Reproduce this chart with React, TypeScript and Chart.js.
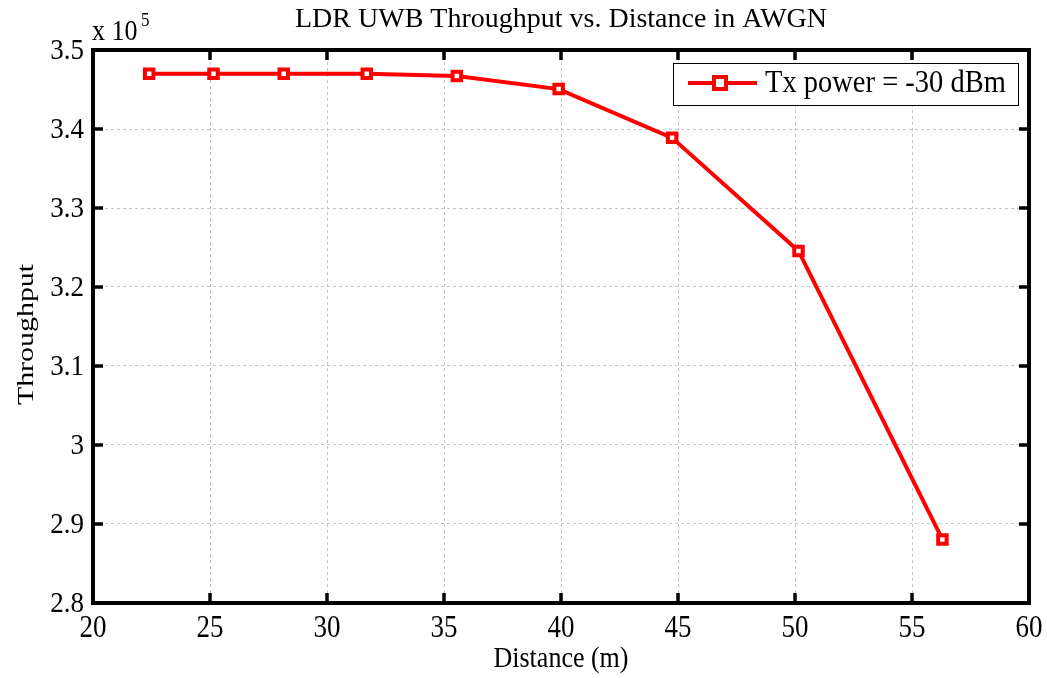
import React, { useEffect, useRef } from "react";
import { Chart, registerables } from "chart.js";

Chart.register(...registerables);

const distance = [22.4, 25.15, 28.15, 31.7, 35.55, 39.9, 44.75, 50.15, 56.3];
const throughput = [3.47, 3.47, 3.47, 3.47, 3.467, 3.4505, 3.3888, 3.2456, 2.8805];
const xTicks = [20, 25, 30, 35, 40, 45, 50, 55, 60];
const yTicks = [2.8, 2.9, 3.0, 3.1, 3.2, 3.3, 3.4, 3.5];
const yTickLabels = ["2.8", "2.9", "3", "3.1", "3.2", "3.3", "3.4", "3.5"];
const seriesLabel = "Tx power = -30 dBm";
const titleText = "LDR UWB Throughput vs. Distance in AWGN";
const xLabel = "Distance (m)";
const yLabel = "Throughput";

const FONT = '"Liberation Serif", "Times New Roman", serif';

function drawText(
  ctx: CanvasRenderingContext2D,
  text: string,
  x: number,
  y: number,
  size: number,
  sy: number,
  align: CanvasTextAlign,
  baseline: CanvasTextBaseline
) {
  ctx.save();
  ctx.translate(x, y);
  ctx.scale(1, sy);
  ctx.font = `${size}px ${FONT}`;
  ctx.textAlign = align;
  ctx.textBaseline = baseline;
  ctx.fillText(text, 0, 0);
  ctx.restore();
}

const framePlugin = {
  id: "framePlugin",
  afterDraw(chart: any) {
    const ctx = chart.ctx as CanvasRenderingContext2D;
    const { left, right, top, bottom } = chart.chartArea;
    const xs = chart.scales.x;
    const ys = chart.scales.y;
    ctx.save();
    ctx.strokeStyle = "#000";
    ctx.lineWidth = 4;
    ctx.strokeRect(left, top, right - left, bottom - top);
    ctx.lineWidth = 3.5;
    const tl = 10;
    xTicks.forEach((v) => {
      const px = xs.getPixelForValue(v);
      ctx.beginPath();
      ctx.moveTo(px, bottom);
      ctx.lineTo(px, bottom - tl);
      ctx.moveTo(px, top);
      ctx.lineTo(px, top + tl);
      ctx.stroke();
    });
    yTicks.forEach((v) => {
      const py = ys.getPixelForValue(v);
      ctx.beginPath();
      ctx.moveTo(left, py);
      ctx.lineTo(left + tl, py);
      ctx.moveTo(right, py);
      ctx.lineTo(right - tl, py);
      ctx.stroke();
    });
    ctx.fillStyle = "#000";
    // tick labels
    xTicks.forEach((v) => {
      const px = xs.getPixelForValue(v);
      drawText(ctx, String(v), px, 637, 27, 1.15, "center", "alphabetic");
    });
    yTicks.forEach((v, i) => {
      const py = ys.getPixelForValue(v);
      drawText(ctx, yTickLabels[i], 84, py + 1, 27, 1.12, "right", "middle");
    });
    // title
    drawText(ctx, titleText, (left + right) / 2, 27, 28, 1.0, "center", "alphabetic");
    // x label
    drawText(ctx, xLabel, (left + right) / 2, 667, 26, 1.1, "center", "alphabetic");
    // y label (rotated, stretched along its length)
    ctx.save();
    ctx.translate(33, (top + bottom) / 2 + 8);
    ctx.rotate(-Math.PI / 2);
    ctx.scale(1.3, 1);
    ctx.font = `23px ${FONT}`;
    ctx.textAlign = "center";
    ctx.textBaseline = "alphabetic";
    ctx.fillText(yLabel, 0, 0);
    ctx.restore();
    // exponent
    drawText(ctx, "x 10", 92, 40, 26, 1.1, "left", "alphabetic");
    drawText(ctx, "5", 141, 26, 17, 1.1, "left", "alphabetic");
    // legend
    const lx = 673, ly = 63, lw = 345, lh = 42;
    ctx.fillStyle = "#fff";
    ctx.fillRect(lx, ly, lw, lh);
    ctx.strokeStyle = "#000";
    ctx.lineWidth = 1;
    ctx.strokeRect(lx + 0.5, ly + 0.5, lw, lh);
    const cy = 83;
    ctx.strokeStyle = "#ff0000";
    ctx.lineWidth = 4;
    ctx.beginPath();
    ctx.moveTo(688, cy);
    ctx.lineTo(757, cy);
    ctx.stroke();
    ctx.lineWidth = 4;
    ctx.fillStyle = "#fff";
    ctx.fillRect(714, cy - 6, 12, 12);
    ctx.strokeRect(714, cy - 6, 12, 12);
    ctx.fillStyle = "#000";
    drawText(ctx, seriesLabel, 765, cy + 1, 28.5, 1.1, "left", "middle");
    ctx.restore();
  },
};

export default function App() {
  const ref = useRef<HTMLCanvasElement>(null);
  useEffect(() => {
    if (!ref.current) return;
    const chart = new Chart(ref.current, {
      type: "line",
      data: {
        datasets: [
          {
            label: seriesLabel,
            data: distance.map((d, i) => ({ x: d, y: throughput[i] })),
            borderColor: "#ff0000",
            backgroundColor: "#ffffff",
            borderWidth: 4,
            pointStyle: "rect",
            pointRadius: 6,
            pointBorderWidth: 4,
            pointBackgroundColor: "#ffffff",
            pointBorderColor: "#ff0000",
            tension: 0,
          },
        ],
      },
      options: {
        responsive: false,
        animation: false,
        layout: { padding: { left: 0, top: 50, right: 18, bottom: 0 } },
        plugins: {
          legend: { display: false },
          title: { display: false },
          tooltip: { enabled: false },
        },
        scales: {
          x: {
            type: "linear",
            min: 20,
            max: 60,
            afterFit: (s: any) => {
              s.height = 75;
            },
            afterBuildTicks: (s: any) => {
              s.ticks = xTicks.map((v) => ({ value: v }));
            },
            grid: { color: "#c4c4c4", lineWidth: 1, drawTicks: false },
            border: { display: false, dash: [3, 3] },
            ticks: { display: false },
          },
          y: {
            type: "linear",
            min: 2.8,
            max: 3.5,
            afterFit: (s: any) => {
              s.width = 93;
            },
            afterBuildTicks: (s: any) => {
              s.ticks = yTicks.map((v) => ({ value: v }));
            },
            grid: { color: "#c4c4c4", lineWidth: 1, drawTicks: false },
            border: { display: false, dash: [3, 3] },
            ticks: { display: false },
          },
        },
      },
      plugins: [framePlugin],
    });
    return () => chart.destroy();
  }, []);
  return (
    <div style={{ position: "fixed", left: 0, top: 0, width: 1047, height: 678, background: "#fff" }}>
      <canvas ref={ref} width={1047} height={678} />
    </div>
  );
}
